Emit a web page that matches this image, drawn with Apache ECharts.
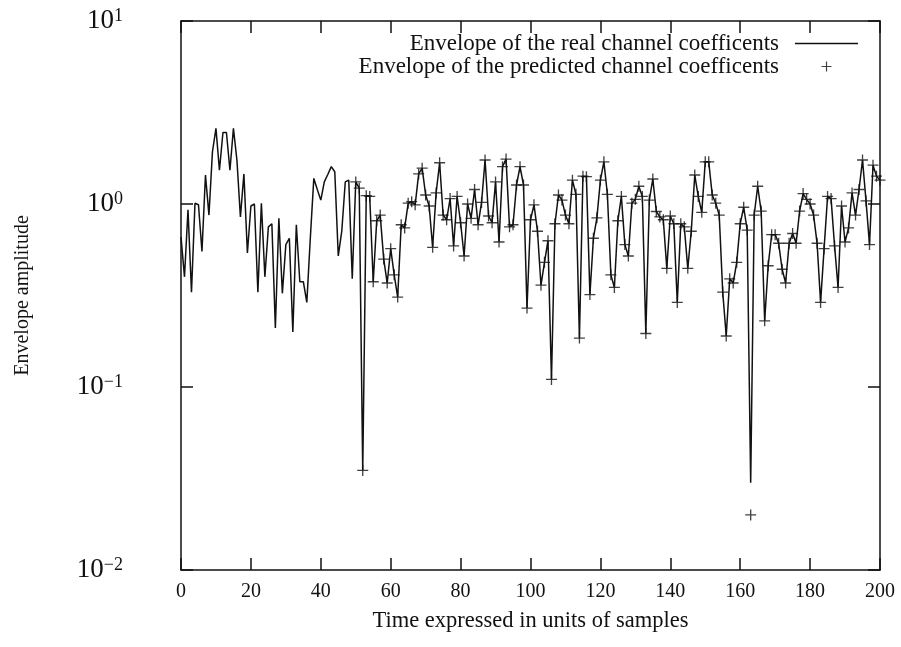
<!DOCTYPE html>
<html><head><meta charset="utf-8">
<script src="https://cdn.jsdelivr.net/npm/echarts@6/dist/echarts.min.js"></script>
<style>html,body{margin:0;padding:0;background:#fff}#c{width:901px;height:647px}</style>
</head><body><div id="c"></div>
<script>
// Envelope of the real channel coefficients, samples 0..200
const realEnvelope = [
  0.66, 0.40, 0.93, 0.33, 1.01, 0.99, 0.55, 1.44, 0.87, 1.93,
  2.59, 1.53, 2.46, 2.46, 1.53, 2.59, 1.74, 0.85, 1.46, 0.54,
  0.975, 1.00, 0.33, 1.01, 0.40, 0.75, 0.78, 0.21, 0.835, 0.325,
  0.60, 0.65, 0.20, 0.77, 0.376, 0.376, 0.29, 0.65, 1.38, 1.20,
  1.05, 1.32, 1.45, 1.60, 1.50, 0.52, 0.71, 1.32, 1.35, 0.39,
  1.32, 1.22, 0.035, 1.11, 1.10, 0.376, 0.81, 0.87, 0.50, 0.37,
  0.57, 0.41, 0.31, 0.77, 0.74, 1.01, 1.03, 0.99, 1.46, 1.57,
  1.12, 0.975, 0.58, 1.15, 1.68, 0.87, 0.82, 1.07, 0.59, 1.10,
  0.79, 0.52, 1.00, 0.835, 1.20, 0.77, 1.02, 1.74, 0.86, 0.79,
  1.32, 0.62, 1.60, 1.76, 0.75, 0.77, 1.27, 1.60, 1.27, 0.27,
  0.82, 0.99, 0.71, 0.36, 0.48, 0.63, 0.11, 0.78, 1.12, 1.05,
  0.87, 0.78, 1.35, 1.13, 0.185, 1.42, 1.41, 0.32, 0.65, 0.84,
  1.35, 1.70, 1.13, 0.41, 0.35, 0.81, 1.10, 0.60, 0.52, 1.01,
  1.06, 1.25, 1.10, 0.196, 1.05, 1.37, 0.91, 0.85, 0.82, 0.445,
  0.86, 0.78, 0.29, 0.78, 0.75, 0.445, 0.71, 1.44, 1.10, 0.90,
  1.70, 1.70, 1.12, 1.01, 0.87, 0.33, 0.19, 0.39, 0.37, 0.48,
  0.78, 0.96, 0.72, 0.03, 0.87, 1.25, 0.915, 0.23, 0.46, 0.68,
  0.68, 0.61, 0.44, 0.37, 0.61, 0.69, 0.61, 0.915, 1.14, 1.06,
  1.00, 0.87, 0.61, 0.29, 0.57, 1.10, 1.07, 0.59, 0.35, 0.975,
  0.62, 0.74, 1.15, 0.87, 1.20, 1.74, 1.04, 0.60, 1.63, 1.42,
  1.35
];
// Envelope of the predicted channel coefficients, samples 50..200
const predictedFirstSample = 50;
const predictedEnvelope = [
  1.32, 1.22, 0.035, 1.11, 1.10, 0.376, 0.81, 0.87, 0.50, 0.37,
  0.57, 0.41, 0.31, 0.77, 0.74, 1.01, 1.03, 0.99, 1.46, 1.57,
  1.12, 0.975, 0.58, 1.15, 1.68, 0.87, 0.82, 1.07, 0.59, 1.10,
  0.79, 0.52, 1.00, 0.835, 1.20, 0.77, 1.02, 1.74, 0.86, 0.79,
  1.32, 0.62, 1.60, 1.76, 0.75, 0.77, 1.27, 1.60, 1.27, 0.27,
  0.82, 0.99, 0.71, 0.36, 0.48, 0.63, 0.11, 0.78, 1.12, 1.05,
  0.87, 0.78, 1.35, 1.13, 0.185, 1.42, 1.41, 0.32, 0.65, 0.84,
  1.35, 1.70, 1.13, 0.41, 0.35, 0.81, 1.10, 0.60, 0.52, 1.01,
  1.06, 1.25, 1.10, 0.196, 1.05, 1.37, 0.91, 0.85, 0.82, 0.445,
  0.86, 0.78, 0.29, 0.78, 0.75, 0.445, 0.71, 1.44, 1.10, 0.90,
  1.70, 1.70, 1.12, 1.01, 0.87, 0.33, 0.19, 0.39, 0.37, 0.48,
  0.78, 0.96, 0.72, 0.02, 0.87, 1.25, 0.915, 0.23, 0.46, 0.68,
  0.68, 0.61, 0.44, 0.37, 0.61, 0.69, 0.61, 0.915, 1.14, 1.06,
  1.00, 0.87, 0.61, 0.29, 0.57, 1.10, 1.07, 0.59, 0.35, 0.975,
  0.62, 0.74, 1.15, 0.87, 1.20, 1.74, 1.04, 0.60, 1.63, 1.42,
  1.35
];
const xTickLabels = [0, 20, 40, 60, 80, 100, 120, 140, 160, 180, 200];
const yTickExponents = [-2, -1, 0, 1];

const realName = 'Envelope of the real channel coefficents';
const predName = 'Envelope of the predicted channel coefficents';
const xTitle = 'Time expressed in units of samples';
const yTitle = 'Envelope amplitude';

const serif = "'Liberation Serif','DejaVu Serif',serif";
const ink = '#111';
const plusPath = 'path://M0,4.4H10V5.6H0Z M4.4,0H5.6V10H4.4Z';
const plusLegend = 'path://M0,0 M63,14 M26.5,6.4H36.5V7.6H26.5Z M30.9,2H32.1V12H30.9Z';
const lineLegend = 'path://M0,0 M63,14 M0,6.3H63V7.7H0Z';

const chart = echarts.init(document.getElementById('c'), null, {renderer: 'canvas'});
const axisLine = {show: true, onZero: false, lineStyle: {color: ink, width: 1.5}};
const axisTick = {show: true, inside: true, length: 12, lineStyle: {color: ink, width: 1.5}};
const xCommon = {type: 'value', min: xTickLabels[0], max: xTickLabels[xTickLabels.length - 1], interval: 20,
  splitLine: {show: false}, axisLine, axisTick};
const yCommon = {type: 'log', logBase: 10, min: Math.pow(10, yTickExponents[0]),
  max: Math.pow(10, yTickExponents[yTickExponents.length - 1]),
  splitLine: {show: false}, minorTick: {show: false}, axisLine, axisTick};

chart.setOption({
  animation: false,
  backgroundColor: '#fff',
  grid: {left: 181, right: 21, top: 21, bottom: 77},
  legend: {
    orient: 'vertical', align: 'right', right: 38, top: 27,
    itemWidth: 63, itemHeight: 14, itemGap: 0,
    textStyle: {fontFamily: serif, fontSize: 23, lineHeight: 22, color: ink, padding: [0, 11, 0, 0]},
    data: [
      {name: realName, icon: lineLegend},
      {name: predName, icon: plusLegend}
    ]
  },
  xAxis: [
    Object.assign({}, xCommon, {position: 'bottom', name: xTitle, nameLocation: 'middle', nameGap: 40,
      nameTextStyle: {fontFamily: serif, fontSize: 22.5, color: ink},
      axisLabel: {fontFamily: serif, fontSize: 20, color: ink, margin: 12,
        formatter: v => xTickLabels.includes(v) ? String(v) : ''}}),
    Object.assign({}, xCommon, {position: 'top', axisLabel: {show: false}})
  ],
  yAxis: [
    Object.assign({}, yCommon, {position: 'left', name: yTitle, nameLocation: 'middle', nameGap: 148,
      nameTextStyle: {fontFamily: serif, fontSize: 20, color: ink},
      axisLabel: {margin: 58, color: ink,
        formatter: v => {
          const e = Math.round(Math.log10(v));
          return '{b|10}{s|' + (e < 0 ? '\u2212' + (-e) : e) + '}';
        },
        rich: {
          b: {fontFamily: serif, fontSize: 27, color: ink, lineHeight: 28},
          s: {fontFamily: serif, fontSize: 18, color: ink, verticalAlign: 'top', lineHeight: 16}
        }}}),
    Object.assign({}, yCommon, {position: 'right', axisLabel: {show: false}})
  ],
  series: [
    {
      name: realName, type: 'line', xAxisIndex: 0, yAxisIndex: 0,
      data: realEnvelope.map((v, i) => [i, v]),
      symbol: 'none', lineStyle: {color: ink, width: 1.5}, itemStyle: {color: ink},
      z: 3
    },
    {
      name: predName, type: 'scatter', xAxisIndex: 0, yAxisIndex: 0,
      data: predictedEnvelope.map((v, i) => [i + predictedFirstSample, v]),
      symbol: plusPath, symbolSize: 11, itemStyle: {color: ink},
      z: 4
    }
  ]
});
</script></body></html>
